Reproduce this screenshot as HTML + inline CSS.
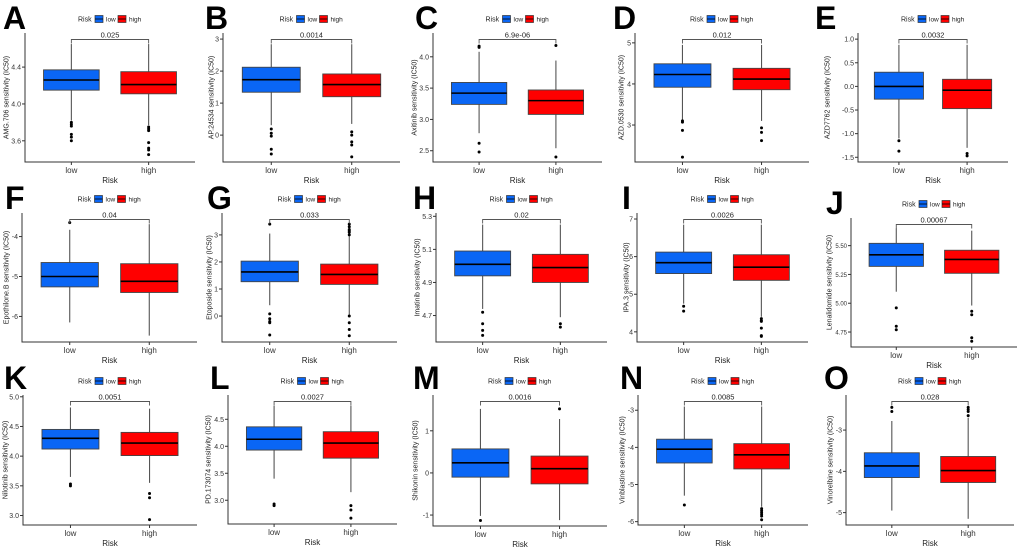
<!DOCTYPE html>
<html><head><meta charset="utf-8"><style>
html,body{margin:0;padding:0;background:#fff;}
svg{display:block;font-family:"Liberation Sans",sans-serif;}
</style></head><body>
<svg id="fig" width="1020" height="547" viewBox="0 0 1020 547"></svg>
<script>
// ---- data ----
const panelLetters = ["A","B","C","D","E","F","G","H","I","J","K","L","M","N","O"];
const yLabels = ["AMG.706 sensitivity (IC50)","AP.24534 sensitivity (IC50)","Axitinib sensitivity (IC50)","AZD.0530 sensitivity (IC50)","AZD7762 sensitivity (IC50)",
"Epothilone.B sensitivity (IC50)","Etoposide sensitivity (IC50)","Imatinib sensitivity (IC50)","IPA.3 sensitivity (IC50)","Lenalidomide sensitivity (IC50)",
"Nilotinib sensitivity (IC50)","PD.173074 sensitivity (IC50)","Shikonin sensitivity (IC50)","Vinblastine sensitivity (IC50)","Vinorelbine sensitivity (IC50)"];
const pValues = ["0.025","0.0014","6.9e-06","0.012","0.0032","0.04","0.033","0.02","0.0026","0.00067","0.0051","0.0027","0.0016","0.0085","0.028"];
const categories = ["low","high"];
const yTicks = [[3.6,4.0,4.4],[0,1,2,3],[2.5,3.0,3.5,4.0],[3,4,5],[-1.5,-1.0,-0.5,0.0,0.5,1.0],
[-6,-5,-4],[0,1,2,3],[4.7,4.9,5.1,5.3],[4,5,6,7],[4.75,5.00,5.25,5.50],
[3.0,3.5,4.0,4.5,5.0],[3.0,3.5,4.0,4.5],[-1,0,1],[-6,-5,-4,-3],[-5,-4,-3]];
const tickDigits = [1,0,1,0,1,0,0,1,0,2,1,1,0,0,0];
const yDomain = [[3.37,4.77],[-0.84,3.19],[2.32,4.38],[2.1,5.24],[-1.6,1.13],
[-6.64,-3.41],[-0.96,3.81],[4.54,5.32],[3.73,7.16],[4.62,5.74],
[2.84,5.03],[2.56,4.95],[-1.26,1.85],[-6.09,-2.59],[-5.3,-2.15]];
// [whiskerLow, q1, median, q3, whiskerHigh]
const lowStats = [[3.82,4.15,4.26,4.37,4.65],[0.31,1.34,1.73,2.12,2.84],[2.78,3.24,3.42,3.59,4.08],[3.12,3.92,4.23,4.49,4.95],[-1.1,-0.27,0,0.3,0.88],
[-6.15,-5.26,-5.0,-4.65,-3.83],[0.4,1.27,1.63,2.03,3.05],[4.74,4.94,5.01,5.09,5.25],[4.75,5.55,5.84,6.12,6.85],[5.1,5.32,5.42,5.52,5.65],
[3.65,4.12,4.3,4.45,4.82],[3.4,3.93,4.13,4.36,4.75],[-1.02,-0.1,0.24,0.57,1.52],[-5.3,-4.42,-4.05,-3.78,-2.9],[-4.95,-4.15,-3.87,-3.55,-2.78]];
const highStats = [[3.77,4.11,4.21,4.35,4.65],[0.35,1.2,1.58,1.91,2.84],[2.54,3.08,3.3,3.47,3.94],[3.1,3.86,4.12,4.38,4.95],[-1.3,-0.47,-0.08,0.15,0.88],
[-6.48,-5.4,-5.12,-4.68,-3.69],[0.05,1.17,1.54,1.92,2.95],[4.69,4.9,4.99,5.07,5.25],[4.4,5.37,5.72,6.05,6.85],[4.98,5.26,5.38,5.46,5.63],
[3.55,4.01,4.22,4.4,4.8],[3.15,3.78,4.06,4.27,4.75],[-1.12,-0.26,0.1,0.4,1.28],[-5.6,-4.58,-4.2,-3.9,-2.9],[-5.15,-4.27,-3.98,-3.64,-2.7]];
const lowOutliers = [[3.8,3.78,3.76,3.67,3.64,3.6],[0.19,0.06,-0.03,-0.44,-0.59],[4.17,4.15,2.62,2.48],[3.1,3.07,2.87,2.22],[-1.15,-1.37],
[-3.65],[3.4,0.08,-0.1,-0.2,-0.25,-0.7],[4.72,4.65,4.61,4.58],[4.68,4.55],[4.96,4.8,4.77],
[3.53,3.5],[2.93,2.9],[-1.13],[-5.55],[-2.45,-2.55]];
const highOutliers = [[3.75,3.73,3.71,3.58,3.52,3.5,3.45],[0.1,0,-0.21,-0.31,-0.68],[4.18,2.4],[2.93,2.82,2.62],[-1.42,-1.47],
[],[3.4,3.3,3.2,3.15,3.1,3.0,0.0,-0.25,-0.5,-0.73],[4.65,4.63],[4.35,4.3,4.28,4.1,3.9,3.88],[4.93,4.9,4.7,4.67],
[3.37,3.3,2.93],[2.9,2.82,2.67],[1.52],[-5.65,-5.7,-5.75,-5.8,-5.85,-5.95],[-2.45,-2.5,-2.55,-2.65]];

// ---- layout (pixels) ----
const plotLeft = [25,223,433,635,858, 22,222,436,637,851, 23,228,433,638,846];
const plotRight = [195,400,602,809,1008, 197,397,607,808,1017, 197,397,607,808,1014];
const plotTop = [33,33,33,33,33, 213,213,213,213,218, 395,395,395,395,395];
const plotBottom = [162,162,162,162,162, 342,342,342,342,347, 525,524,526,525,525];
const titleX = [7,212,415,622,828, 7,210,418,627,830, 6,209,416,623,831];
const letterX = [3,205,415,613,815, 5,207,413,622,826, 4,210,413,620,824];
const letterY = [5,5,5,5,5, 185,185,185,185,190, 365,365,365,365,365];
const tickFont = [7,7,7,7,7, 7,7,7,7,6, 7,7,7,7,7];
const fills = ["#0a66f5","#ff0000"];

const NS = "http://www.w3.org/2000/svg";
const svg = document.getElementById("fig");
function mk(tag, attrs, parent){
  const e = document.createElementNS(NS, tag);
  for (const k in attrs) e.setAttribute(k, attrs[k]);
  (parent||svg).appendChild(e);
  return e;
}

for (let p = 0; p < panelLetters.length; p++) {
  const g = mk("g", {});
  
  
  const L = plotLeft[p], R = plotRight[p], T = plotTop[p], B = plotBottom[p];
  const d0 = yDomain[p][0], d1 = yDomain[p][1];
  const yS = v => B - (v - d0) / (d1 - d0) * (B - T);
  const W = R - L;
  const xS = i => L + (i + 0.6) / 2.2 * W;
  const bw = 0.72 * W / 2.2;

  const lt = mk("text", {x: letterX[p], y: letterY[p] + 24, "font-size": 32, "font-weight": "bold", fill: "#000"}, g);
  lt.textContent = panelLetters[p];
  
  

  const lg = mk("g", {}, g);
  
  
  const cx = (L + R) / 2, ly = T - 14;
  let lx = cx - 32;
  const lr = mk("text", {x: lx, y: ly + 2.5, "font-size": 7, fill: "#222"}, lg);
  lr.textContent = "Risk";
  lx += 17;
  for (let i = 0; i < 2; i++) {
    const ke = mk("g", {}, lg);
    
    
    mk("rect", {x: lx, y: ly - 3.5, width: 8, height: 7, fill: fills[i], stroke: "#333", "stroke-width": 0.7}, ke);
    mk("line", {x1: lx, x2: lx + 8, y1: ly, y2: ly, stroke: "#000", "stroke-width": 0.8}, ke);
    const kt = mk("text", {x: lx + 11, y: ly + 2.5, "font-size": 6.5, fill: "#222"}, ke);
    kt.textContent = categories[i];
    lx += 23;
  }

  const ax = mk("path", {d: `M${L},${T}V${B}H${R}`, fill: "none", stroke: "#333", "stroke-width": 1}, g);
  
  

  yTicks[p].forEach(v => {
    const y = yS(v);
    mk("line", {x1: L - 3, x2: L, y1: y, y2: y, stroke: "#333", "stroke-width": 1}, g);
    const t = mk("text", {x: L - 4, y: y + 2.5, "font-size": tickFont[p], "text-anchor": "end", fill: "#333"}, g);
    t.textContent = v.toFixed(tickDigits[p]);
    
    
  });
  const ty = (T + B) / 2;
  const yt = mk("text", {x: titleX[p], y: ty, "font-size": 7, "text-anchor": "middle", "dominant-baseline": "central", fill: "#222", transform: `rotate(-90 ${titleX[p]} ${ty})`}, g);
  yt.textContent = yLabels[p];
  
  
  for (let i = 0; i < 2; i++) {
    mk("line", {x1: xS(i), x2: xS(i), y1: B, y2: B + 3, stroke: "#333", "stroke-width": 1}, g);
    const t = mk("text", {x: xS(i), y: B + 11, "font-size": 8, "text-anchor": "middle", fill: "#333"}, g);
    t.textContent = categories[i];
    
    
  }
  const xt = mk("text", {x: (L + R) / 2, y: B + 21, "font-size": 8, "text-anchor": "middle", fill: "#222"}, g);
  xt.textContent = "Risk";
  
  

  const statsArr = [lowStats[p], highStats[p]];
  const outArr = [lowOutliers[p], highOutliers[p]];
  for (let i = 0; i < 2; i++) {
    const s = statsArr[i], x = xS(i);
    const bx = mk("g", {}, g);
    
    
    mk("line", {x1: x, x2: x, y1: yS(s[0]), y2: yS(s[4]), stroke: "#555", "stroke-width": 1.1}, bx);
    mk("rect", {x: x - bw / 2, y: yS(s[3]), width: bw, height: yS(s[1]) - yS(s[3]), fill: fills[i], stroke: "#444", "stroke-width": 0.9}, bx);
    mk("line", {x1: x - bw / 2, x2: x + bw / 2, y1: yS(s[2]), y2: yS(s[2]), stroke: "#000", "stroke-width": 1.6}, bx);
    outArr[i].forEach(v => {
      const c = mk("circle", {cx: x, cy: yS(v), r: 1.5, fill: "#000"}, bx);
      
      
    });
  }
  const by = T + 6.5;
  const br = mk("path", {d: `M${xS(0)},${by + 4}V${by}H${xS(1)}V${by + 4}`, fill: "none", stroke: "#555", "stroke-width": 0.9}, g);
  
  
  const pt = mk("text", {x: (xS(0) + xS(1)) / 2, y: by - 2, "font-size": 7.5, "text-anchor": "middle", fill: "#222"}, g);
  pt.textContent = pValues[p];
  
  
}
</script>
</body></html>
